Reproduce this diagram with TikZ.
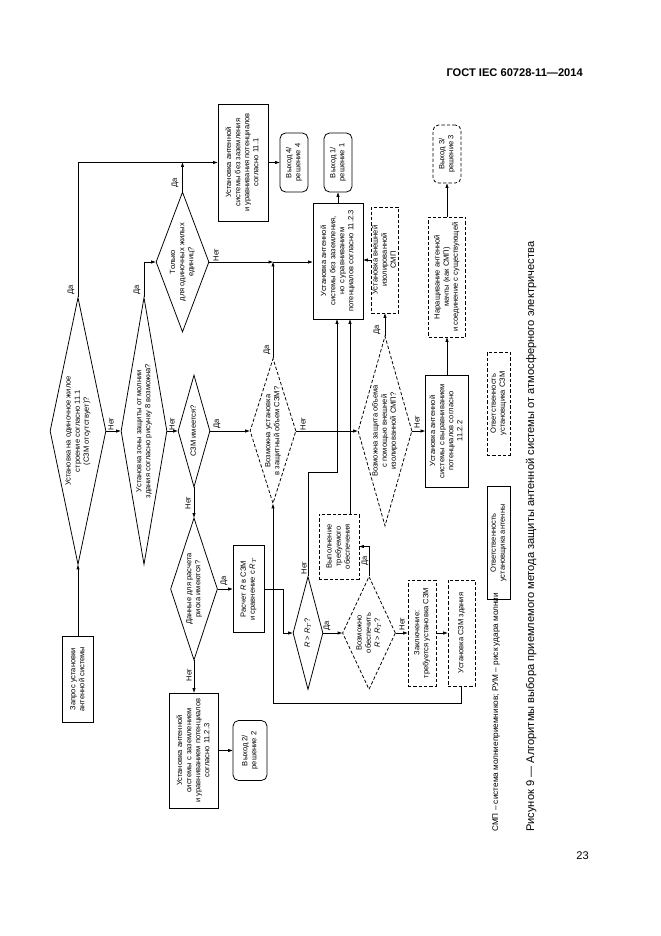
\documentclass[tikz,border=0pt]{standalone}
\usepackage{fontspec}
\setmainfont{Liberation Sans}
\usepackage{graphicx}
\usetikzlibrary{shapes.geometric,arrows.meta}
\newdimen\pxu \pxu=0.9pt
\newcommand{\fs}{\fontsize{6.8}{8.2}\selectfont}
\newcommand{\rt}[1]{\rotatebox{90}{\fs\begin{tabular}{@{}c@{}}#1\end{tabular}}}
\tikzset{
 box/.style={draw, line width=0.7pt, inner sep=0pt, rectangle},
 dbox/.style={box, dash pattern=on 3pt off 1.8pt},
 rbox/.style={box, rounded corners=5pt},
 drbox/.style={dbox, rounded corners=5pt},
 dia/.style={draw, diamond, line width=0.7pt, inner sep=0pt},
 ddia/.style={dia, dash pattern=on 3pt off 1.8pt},
 con/.style={line width=0.7pt, -{Triangle[length=4pt,width=2.6pt]}},
 yn/.style={font=\fs, rotate=90, inner sep=0pt},
 txt/.style={inner sep=0pt},
}
\begin{document}
\begin{tikzpicture}[x=0.9pt,y=-0.9pt]
\fill[white] (0,0) rectangle (661,936);
\useasboundingbox (0,0) rectangle (661,936);

\node[anchor=base east, font=\bfseries\fontsize{10}{12}\selectfont, inner sep=0] (hdr) at (583,76) {ГОСТ IEC 60728-11—2014};
\node[anchor=base east, font=\fontsize{10}{12}\selectfont, inner sep=0] (pg) at (589,859) {23};

% boxes
\node[box, minimum width=31\pxu, minimum height=86\pxu] (q) at (78,679) {\rt{Запрос установки\\антенной системы}};
\node[box, minimum width=31\pxu, minimum height=87\pxu] (b6) at (248.5,589) {\rt{Расчет \textit{R} в СЗМ\\и сравнение с \textit{R}$_T$}};
\node[box, minimum width=49\pxu, minimum height=115\pxu] (b7) at (194,750.5) {\rt{Установка антенной\\системы с заземлением\\и уравниванием потенциалов\\согласно 11.2.3}};
\node[rbox, minimum width=34\pxu, minimum height=60\pxu] (e2) at (250,750.5) {\rt{Выход 2/\\решение 2}};
\node[dbox, minimum width=40\pxu, minimum height=65\pxu] (b12) at (339,546.5) {\rt{Выполнение\\требуемого\\обеспечения}};
\node[dbox, minimum width=28\pxu, minimum height=106\pxu] (b13) at (422,633) {\rt{Заключение:\\требуется установка СЗМ}};
\node[dbox, minimum width=27\pxu, minimum height=106\pxu] (b14) at (461.5,633) {\rt{Установка СЗМ здания}};
\node[box, minimum width=43\pxu, minimum height=112\pxu] (b16) at (447,431) {\rt{Установка антенной\\системы с выравниванием\\потенциалов согласно\\11.2.2}};
\node[dbox, minimum width=37\pxu, minimum height=120\pxu] (b17) at (447,277) {\rt{Наращивание антенной\\мачты (как СМП)\\и соединение с существующей}};
\node[drbox, minimum width=28\pxu, minimum height=58\pxu] (e3) at (447,154) {\rt{Выход 3/\\решение 3}};
\node[dbox, minimum width=27\pxu, minimum height=106\pxu] (b19) at (385,260) {\rt{Установка внешней\\изолированной\\СМП}};
\node[box, minimum width=50\pxu, minimum height=116\pxu] (b20) at (338,261) {\rt{Установка антенной\\системы без заземления,\\но с уравниванием\\потенциалов согласно 11.2.3}};
\node[rbox, minimum width=28\pxu, minimum height=59\pxu] (e1) at (338,162.5) {\rt{Выход 1/\\решение 1}};
\node[rbox, minimum width=28\pxu, minimum height=59\pxu] (e4) at (294,162.5) {\rt{Выход 4/\\решение 4}};
\node[box, minimum width=50\pxu, minimum height=117\pxu] (b23) at (243,162.5) {\rt{Установка антенной\\системы без заземления\\и уравнивания потенциалов\\согласно 11.1}};

% diamonds
\node[dia, minimum width=56\pxu, minimum height=267\pxu] (d1) at (78,431) {};
\node[txt] (d1t) at (d1.center) {\rt{Установка на одиночное жилое\\строение согласно 11.1\\(СЗМ отсутствует)?}};
\node[dia, minimum width=46\pxu, minimum height=267\pxu] (d2) at (144,431) {};
\node[txt] (d2t) at (d2.center) {\rt{Установка зоны защиты от молнии\\здания согласно рисунку 8 возможна?}};
\node[dia, minimum width=32\pxu, minimum height=112\pxu] (d3) at (194,431) {};
\node[txt] (d3t) at (d3.center) {\rt{СЗМ имеется?}};
\node[dia, minimum width=47\pxu, minimum height=142\pxu] (d4) at (194,589) {};
\node[txt] (d4t) at (d4.center) {\rt{Данные для расчета\\риска имеются?}};
\node[ddia, minimum width=46\pxu, minimum height=145\pxu] (d5) at (273,431) {};
\node[txt] (d5t) at (d5.center) {\rt{Возможна установка\\в защитный объем СЗМ?}};
\node[dia, minimum width=30\pxu, minimum height=113\pxu] (d6) at (308,633) {};
\node[txt] (d6t) at (d6.center) {\rt{\textit{R} > \textit{R}$_T$?}};
\node[ddia, minimum width=53\pxu, minimum height=113\pxu] (d7) at (369,633) {};
\node[txt] (d7t) at (d7.center) {\rt{Возможно\\обеспечить\\\textit{R} > \textit{R}$_T$?}};
\node[ddia, minimum width=54\pxu, minimum height=190\pxu] (d8) at (385,431) {};
\node[txt] (d8t) at (d8.center) {\rt{Возможна защита объема\\с помощью внешней\\изолированной СМП?}};
\node[dia, minimum width=53\pxu, minimum height=140\pxu] (d9) at (182.5,262) {};
\node[txt] (d9t) at (d9.center) {\rt{Только\\для одиночных жилых\\единиц?}};

% connectors
\draw[con] (q) -- (d1);
\draw[con] (d1.north) |- (b23.west);
\draw[con] (d1.east) -- (d2.west);
\draw[con] (d2.north) |- (d9.west);
\draw[con] (d2.east) -- (d3.west);
\draw[con] (d9.north) -- (d9.north |- b23.west);
\draw[con] (b23.east) -- (e4.west);
\coordinate (j1) at (273,262);
\draw[con] (d9.east) -- (j1);
\draw[con] (d5.north) -- (j1);
\draw[con] (j1) -- (j1 -| b20.west);
\draw[con] (b20.north) -- (e1.south);
\draw[con] (b19.west) -- (b19.west -| b20.east);
\draw[con] (d8.north) -- (d8.north |- b19.south);
\draw[con] (d8.east) -- (b16.west);
\draw[con] (b16.north) -- (b17.south);
\draw[con] (b17.north) -- (e3.south);
\draw[con] (d3.east) -- (d5.west);
\draw[con] (d5.east) -- (d8.west);
\draw[con] (d3.south) -- (d4.north);
\draw[con] (d4.east) -- (b6.west);
\draw[con] (d4.south) -- (b7.north);
\draw[con] (b7.east) -- (e2.west);
\coordinate (k1) at (283,633);
\draw[con] (b6.east) -| (k1) -- (d6.west);
\draw[con] (d6.east) -- (d7.west);
\coordinate (k2) at (337,472);
\draw[con] (d6.north) |- (k2) -- (k2 |- b20.south);
\coordinate (k3) at (350,400);
\draw[con] (b12.north -| k3) -- (b20.south -| k3);
\draw[con] (d7.north) |- (b12.east);
\draw[con] (d7.east) -- (b13.west);
\draw[con] (b13.east) -- (b14.west);
\coordinate (k4) at (273,703);
\draw[con] (b14.south) |- (k4) -- (d5.south);

% yes/no labels
\node[yn] (l1) at (71,290) {Да};
\node[yn] (l2) at (111,424) {Нет};
\node[yn] (l3) at (137,290) {Да};
\node[yn] (l4) at (172,424) {Нет};
\node[yn] (l5) at (217,424) {Да};
\node[yn] (l6) at (188,503) {Нет};
\node[yn] (l7) at (175,183) {Да};
\node[yn] (l8) at (216,255) {Нет};
\node[yn] (l9) at (267,350) {Да};
\node[yn] (l10) at (303,424) {Нет};
\node[yn] (l11) at (377,330) {Да};
\node[yn] (l12) at (417,422) {Нет};
\node[yn] (l13) at (224,581) {Да};
\node[yn] (l14) at (189,675) {Нет};
\node[yn] (l15) at (304,568) {Нет};
\node[yn] (l16) at (327,626) {Да};
\node[yn] (l17) at (365,561) {Да};
\node[yn] (l18) at (402,624) {Нет};

% legend
\node[dbox, minimum width=23\pxu, minimum height=103\pxu] (lg1) at (498.5,403.5) {\rt{Ответственность\\установщика СЗМ}};
\node[box, minimum width=23\pxu, minimum height=113\pxu] (lg2) at (498.5,543) {\rt{Ответственность\\установщика антенны}};
\node[rotate=90, anchor=base west, font=\fontsize{7.4}{9}\selectfont, inner sep=0] (fn) at (498,832) {СМП – система молниеприемников; РУМ – риск удара молнии};
\node[rotate=90, anchor=base west, font=\fontsize{10}{12}\selectfont, inner sep=0] (cap) at (534,832) {Рисунок 9 — Алгоритмы выбора приемлемого метода защиты антенной системы от атмосферного электричества};
\end{tikzpicture}
\end{document}
